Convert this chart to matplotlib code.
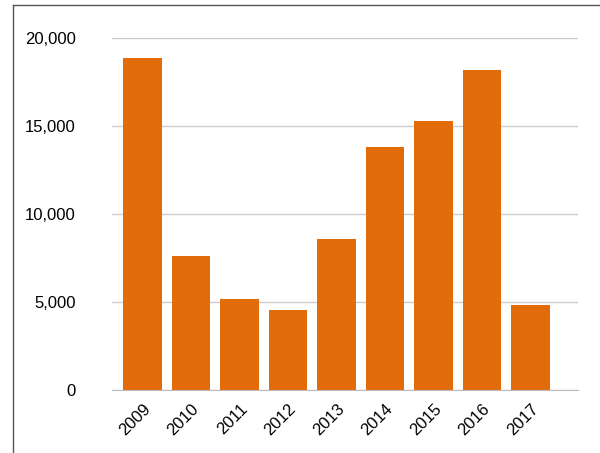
import matplotlib.pyplot as plt
from matplotlib.lines import Line2D

plt.rcParams['font.family'] = ['Liberation Sans', 'DejaVu Sans']

years = ["2009", "2010", "2011", "2012", "2013", "2014", "2015", "2016", "2017"]
values = [18870, 7610, 5170, 4550, 8580, 13810, 15280, 18180, 4830]

fig = plt.figure(figsize=(6, 4.53), dpi=100)
ax = fig.add_axes([112/600, 1-390/453, 466/600, 352/453])

# outer frame (only top and left visible)
fig.add_artist(Line2D([13/600, 13/600], [0, 1-5/453], color="#555555", lw=1))
fig.add_artist(Line2D([13/600, 1], [1-5/453, 1-5/453], color="#555555", lw=1))

x = range(len(years))
ax.bar(x, values, width=0.8, color="#E36C0A", zorder=2)
ax.set_xlim(-0.63, 8.98)
ax.set_ylim(0, 20000)
ax.set_yticks([0, 5000, 10000, 15000, 20000])
ax.set_yticklabels(["0", "5,000", "10,000", "15,000", "20,000"])
ax.set_xticks(list(x))
ax.set_xticklabels(years, rotation=45, ha="right", rotation_mode="anchor")
ax.grid(axis="y", color="#cccccc", lw=1, zorder=0)
for s in ["left", "right", "top"]:
    ax.spines[s].set_visible(False)
ax.spines["bottom"].set_color("#bbbbbb")
ax.tick_params(axis="both", length=0, labelsize=12, colors="black")
ax.tick_params(axis="y", pad=26)
ax.tick_params(axis="x", pad=8)

fig.savefig("out.png", dpi=100)
